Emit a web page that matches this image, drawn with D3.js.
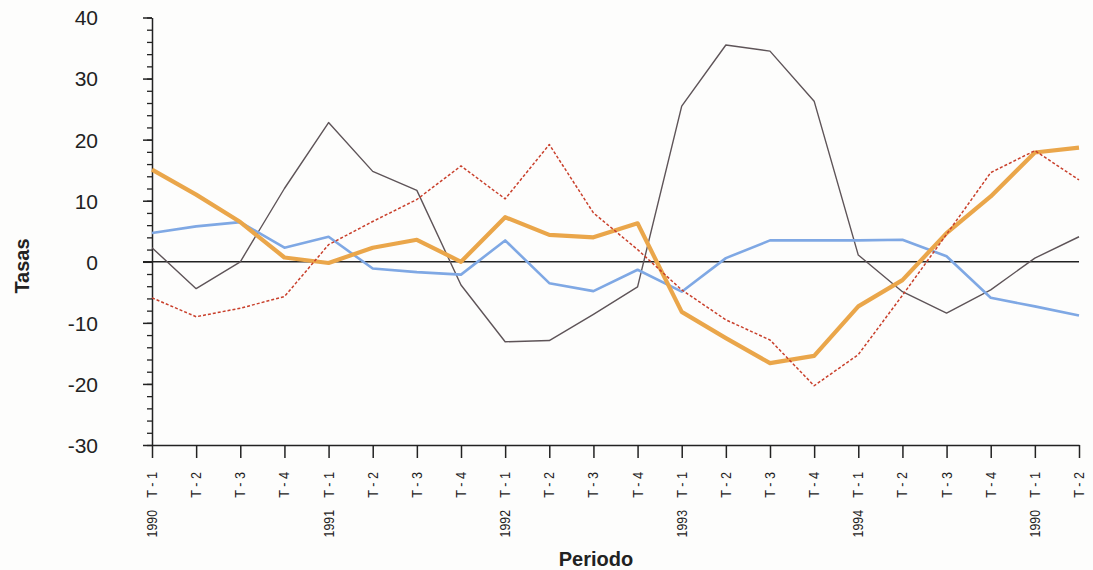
<!DOCTYPE html>
<html><head><meta charset="utf-8">
<script src="https://cdn.jsdelivr.net/npm/d3@7"></script>
<style>html,body{margin:0;padding:0;background:#fdfdfc;}svg{display:block;font-family:"Liberation Sans",Arial,sans-serif;}</style>
</head><body><svg id="c" width="1093" height="570"></svg>
<script>
const categories = ["1990 T - 1","T - 2","T - 3","T - 4","1991 T - 1","T - 2","T - 3","T - 4","1992 T - 1","T - 2","T - 3","T - 4","1993 T - 1","T - 2","T - 3","T - 4","1994 T - 1","T - 2","T - 3","T - 4","1990 T - 1","T - 2"];
const seriesOrange = [15.1,11.0,6.5,0.7,-0.2,2.3,3.6,0.0,7.3,4.4,4.0,6.3,-8.2,-12.5,-16.6,-15.4,-7.3,-3.0,4.7,10.7,17.9,18.7];
const seriesBlue   = [4.7,5.8,6.5,2.3,4.1,-1.1,-1.7,-2.1,3.5,-3.5,-4.8,-1.3,-4.9,0.6,3.5,3.5,3.5,3.6,0.9,-5.9,-7.3,-8.8];
const seriesGray   = [2.3,-4.4,0.0,12.0,22.8,14.8,11.7,-3.8,-13.1,-12.9,-8.6,-4.1,25.5,35.5,34.5,26.3,1.1,-4.9,-8.4,-4.6,0.6,4.1];
const seriesRed    = [-5.9,-9.0,-7.6,-5.7,2.8,6.6,10.2,15.7,10.3,19.2,8.0,2.0,-4.6,-9.5,-12.8,-20.3,-15.2,-5.5,4.5,14.6,18.2,13.4];
const yTicks = [-30,-20,-10,0,10,20,30,40];
const yTitle = "Tasas", xTitle = "Periodo";

const svg = d3.select("#c");
const x = d3.scalePoint().domain(d3.range(categories.length)).range([152,1079]);
const y = d3.scaleLinear().domain([-30,40]).range([445,17.5]);

// minor y ticks
const yMinor = d3.axisLeft(y).tickValues(d3.range(-30,41,2)).tickSize(5).tickFormat("");
svg.append("g").attr("transform","translate(152,0)").call(yMinor)
  .call(g=>g.select(".domain").remove())
  .call(g=>g.selectAll("line").attr("stroke","#222").attr("stroke-width",1.3));
const yAxis = d3.axisLeft(y).tickValues(yTicks).tickSize(9).tickPadding(45).tickSizeOuter(0).tickFormat(d=>String(d));
svg.append("g").attr("transform","translate(152,0)").call(yAxis)
  .call(g=>g.select(".domain").attr("stroke","#222").attr("stroke-width",1.5))
  .call(g=>g.selectAll("line").attr("stroke","#222").attr("stroke-width",1.5))
  .call(g=>g.selectAll("text").attr("font-size",21).attr("fill","#222").attr("font-family","Liberation Sans, Arial").attr("dy","0.35em"));

// x axis
const xAxis = d3.axisBottom(x).tickSize(13).tickFormat("").tickSizeOuter(0);
svg.append("g").attr("transform","translate(0,445)").call(xAxis)
  .call(g=>g.select(".domain").attr("stroke","#222").attr("stroke-width",1.5))
  .call(g=>g.selectAll("line").attr("stroke","#222").attr("stroke-width",1.5));

// x labels (rotated, slightly condensed)
const lab = svg.append("g");
categories.forEach((c,i)=>{
  const m = c.match(/^(\d{4})\s+(.*)$/);
  const tpart = m ? m[2] : c;
  const xx = x(i)+5;
  lab.append("text").attr("transform",`translate(${xx},472) rotate(-90) scale(0.9,1)`)
    .attr("text-anchor","end").attr("font-size",14).attr("fill","#222").text(tpart);
  if(m){
    lab.append("text").attr("transform",`translate(${xx},510) rotate(-90) scale(0.88,1)`)
      .attr("text-anchor","end").attr("font-size",14).attr("fill","#222").text(m[1]);
  }
});

// zero line
svg.append("line").attr("x1",143).attr("x2",1079).attr("y1",y(0)).attr("y2",y(0))
  .attr("stroke","#222").attr("stroke-width",1.5);

const line = d3.line().x((d,i)=>x(i)).y(d=>y(d));
function draw(data,color,w,dash){
  const p = svg.append("path").datum(data).attr("d",line).attr("fill","none")
    .attr("stroke",color).attr("stroke-width",w).attr("stroke-linejoin","round");
  if(dash) p.attr("stroke-dasharray",dash);
}
draw(seriesGray,"#5e5458",1.4);
draw(seriesBlue,"#7fa8e4",2.6);
draw(seriesOrange,"#eaa64a",4.2);
draw(seriesRed,"#c9402c",1.5,"3,2");

// titles
svg.append("text").attr("transform","translate(29,266) rotate(-90)").attr("text-anchor","middle")
  .attr("font-size",20).attr("font-weight","bold").attr("fill","#222").text(yTitle);
svg.append("text").attr("x",596).attr("y",566).attr("text-anchor","middle")
  .attr("font-size",20).attr("font-weight","bold").attr("fill","#222").text(xTitle);
</script></body></html>
